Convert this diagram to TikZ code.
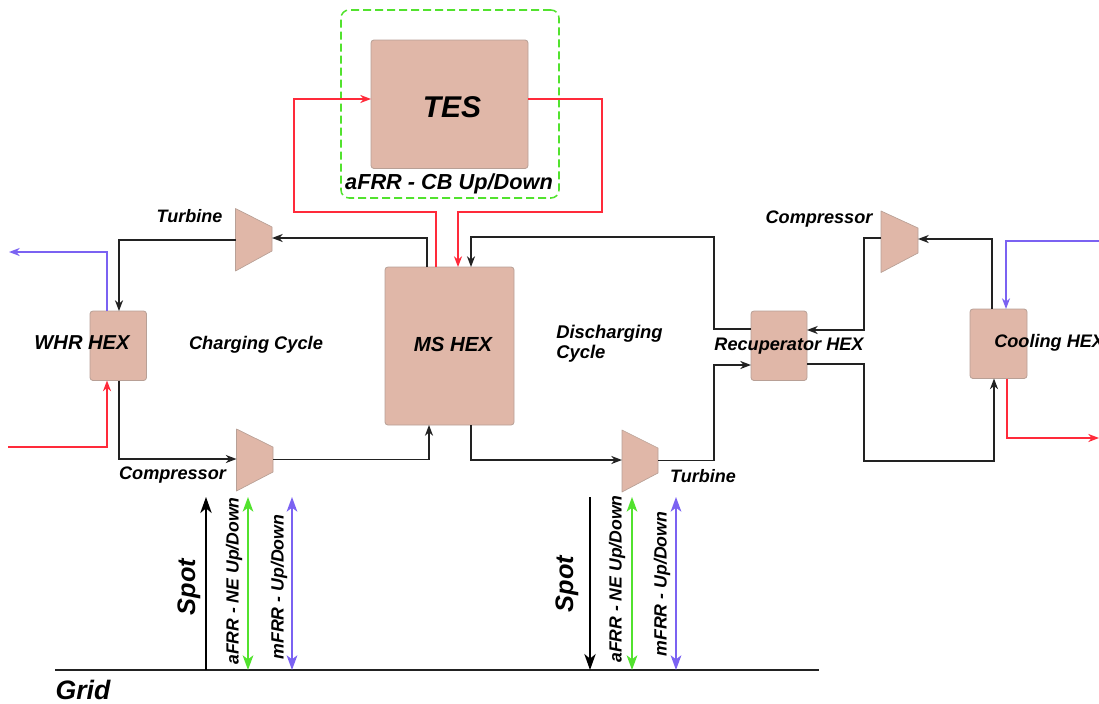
\documentclass[tikz,border=0pt]{standalone}
\usepackage{fontspec}
\setmainfont{Liberation Sans}
\usetikzlibrary{arrows.meta}
\definecolor{hexfill}{HTML}{E0B7A8}
\definecolor{hexline}{HTML}{B8A096}
\definecolor{hotline}{HTML}{FF2A3A}
\definecolor{coldline}{HTML}{7B62F2}
\definecolor{bidgreen}{HTML}{52E22E}
\definecolor{inkline}{HTML}{222222}
\newcommand\fs[1]{\fontsize{#1}{15}\selectfont}
\newcommand\hexbox[5]{\node[hexbox,minimum width={(#4-#2)*0.75pt},minimum height={(#5-#3)*0.75pt}] (#1) at ({(#2+#4)/2},{(#3+#5)/2}) {};}
% machine: name, left x, top-left y, bottom-left y, right x, top-right y, bottom-right y
\newcommand\machine[7]{\fill[hexfill,draw=hexline,line width=0.5pt,line join=round] (#2,#3) -- (#5,#6) -- (#5,#7) -- (#2,#4) -- cycle;
  \coordinate (#1in) at (#2,{(#6+#7)/2}); \coordinate (#1out) at (#5,{(#6+#7)/2});}
\tikzset{
  hexbox/.style={draw=hexline,fill=hexfill,line width=0.6pt,rounded corners=2.2pt,inner sep=0pt,outer sep=0pt},
  lbl/.style={font=\bfseries\itshape,text=black,inner sep=0pt},
  pipe/.style={line width=1.15pt,line join=miter,draw=inkline},
  hot/.style={line width=1.15pt,draw=hotline},
  cold/.style={line width=1.15pt,draw=coldline},
  tip/.style={-{Stealth[length=8pt,width=6pt,inset=2.4pt]}},
  bigtip/.style={-{Stealth[length=12pt,width=8.5pt,inset=3.5pt]}},
  dbl/.style={line width=1.3pt,{Stealth[length=11pt,width=8pt,inset=3pt]}-{Stealth[length=11pt,width=8pt,inset=3pt]}},
}
\begin{document}
\begin{tikzpicture}[x=0.75pt,y=-0.75pt]
\useasboundingbox (0,0) rectangle (1099,703);
\hexbox{tes}{371}{40}{528}{168.5}
\hexbox{ms}{385}{267}{514}{425}
\hexbox{whr}{90}{311}{146.5}{380.5}
\hexbox{rec}{751}{311}{807}{380.5}
\hexbox{cool}{970}{309}{1027}{378.5}
\machine{tA}{235.5}{208.5}{271}{272}{227}{251}
\machine{cA}{236.5}{429}{491}{273}{447}{472}
\machine{tB}{622}{430}{492}{658}{448}{473}
\machine{cB}{881}{211}{272.5}{918}{228}{253}
\node[draw=bidgreen,line width=1.15pt,dash pattern=on 6pt off 3pt,rounded corners=6pt,minimum width={218*0.75pt},minimum height={188*0.75pt},inner sep=0pt] (afrrbox) at (450,104) {};
% hot loop
\draw[hot,tip] (436,0 |- ms.north) -- (436,212) -- (294,212) -- (294,99) -- (tes.west |- 0,99);
\draw[hot,tip] (tes.east |- 0,99) -- (602,99) -- (602,212) -- (458,212) -- (458,0 |- ms.north);
% charging cycle
\coordinate (tAtop) at (427,238);
\draw[pipe,tip] (427,0 |- ms.north) -- (tAtop) -- (tAout |- tAtop);
\draw[pipe,tip] (tAin |- 0,240) -- (119,240) -- (119,0 |- whr.north);
\draw[pipe,tip] (119,0 |- whr.south) -- (119,459) -- (236.5,459);
\draw[pipe,tip] (cAout) -- (429,0 |- cAout) -- (429,0 |- ms.south);
% discharging cycle
\draw[pipe,tip] (471,0 |- ms.south) -- (471,460) -- (622,460);
\draw[pipe,tip] (tBout) -- (714,0 |- tBout) -- (714,365) -- (rec.west |- 0,365);
\draw[pipe,tip] (rec.west |- 0,329) -- (714,329) -- (714,237) -- (471,237) -- (471,0 |- ms.north);
\draw[pipe,tip] (cBin |- 0,238) -- (864,238) -- (864,330) -- (rec.east |- 0,330);
\draw[pipe,tip] (rec.east |- 0,364) -- (864,364) -- (864,461) -- (994,461) -- (994,0 |- cool.south);
\draw[pipe,tip] (992,0 |- cool.north) -- (992,239) -- (cBout |- 0,239);
% external streams
\coordinate (whrOut) at (9,252); \coordinate (whrIn) at (8,447);
\coordinate (coolIn) at (1099,241); \coordinate (coolOut) at (1099,438);
\draw[cold,tip] (107,0 |- whr.north) -- (107,252) -- (whrOut);
\draw[hot,tip] (whrIn) -- (107,447) -- (107,0 |- whr.south);
\draw[cold,tip] (coolIn) -- (1006,241) -- (1006,0 |- cool.north);
\draw[hot,tip] (1007,0 |- cool.south) -- (1007,438) -- (coolOut);
% grid
\coordinate (gridL) at (55,670); \coordinate (gridR) at (819,670);
\draw[line width=1.2pt,draw=inkline] (gridL) -- (gridR);
\draw[line width=1.3pt,black,bigtip] (206,0 |- gridL) -- (206,497);
\draw[dbl,bidgreen] (248,0 |- gridL) -- (248,497);
\draw[dbl,coldline] (292,0 |- gridL) -- (292,497);
\draw[line width=1.3pt,black,bigtip] (590,497) -- (590,0 |- gridL);
\draw[dbl,bidgreen] (632,0 |- gridL) -- (632,497);
\draw[dbl,coldline] (676,0 |- gridL) -- (676,497);
% labels
\node[lbl,font=\bfseries\itshape\fs{22.5}] (ltes) at (452,107) {TES};
\node[lbl,font=\bfseries\itshape\fs{16.3}] (lcb) at (449,184) {aFRR - CB Up/Down};
\node[lbl,font=\bfseries\itshape\fs{15.3}] (lms) at (453,344) {MS HEX};
\node[lbl,font=\bfseries\itshape\fs{15.1}] (lwhr) at (82,343) {WHR HEX};
\node[lbl,font=\bfseries\itshape\fs{13.7}] (lcc) at (256,345) {Charging Cycle};
\node[lbl,font=\bfseries\itshape\fs{13.8},align=left,anchor=west] (ldc) at (556,344) {Discharging\\Cycle};
\node[lbl,font=\bfseries\itshape\fs{13.6}] (lrec) at (789,346) {Recuperator HEX};
\node[lbl,font=\bfseries\itshape\fs{13.6},anchor=west] (lcool) at (994,343) {Cooling HEX};
\node[lbl,font=\bfseries\itshape\fs{13.5}] (ltA) at (189.5,216) {Turbine};
\node[lbl,font=\bfseries\itshape\fs{13.6}] (lcA) at (172.5,475) {Compressor};
\node[lbl,font=\bfseries\itshape\fs{13.5}] (ltB) at (703,476) {Turbine};
\node[lbl,font=\bfseries\itshape\fs{13.6}] (lcB) at (819,219.5) {Compressor};
\node[lbl,font=\bfseries\itshape\fs{20}] (lgrid) at (83,690) {Grid};
\node[lbl,font=\bfseries\itshape\fs{19},rotate=90] (lsA) at (189,587) {Spot};
\node[lbl,font=\bfseries\itshape\fs{19},rotate=90] (lsB) at (567,584) {Spot};
\node[lbl,font=\bfseries\itshape\fs{13.2},rotate=90] (lnA) at (234,581) {aFRR - NE Up/Down};
\node[lbl,font=\bfseries\itshape\fs{13.3},rotate=90] (lmA) at (279,587) {mFRR - Up/Down};
\node[lbl,font=\bfseries\itshape\fs{13.2},rotate=90] (lnB) at (617,579) {aFRR - NE Up/Down};
\node[lbl,font=\bfseries\itshape\fs{13.3},rotate=90] (lmB) at (662,584) {mFRR - Up/Down};
\end{tikzpicture}
\end{document}
